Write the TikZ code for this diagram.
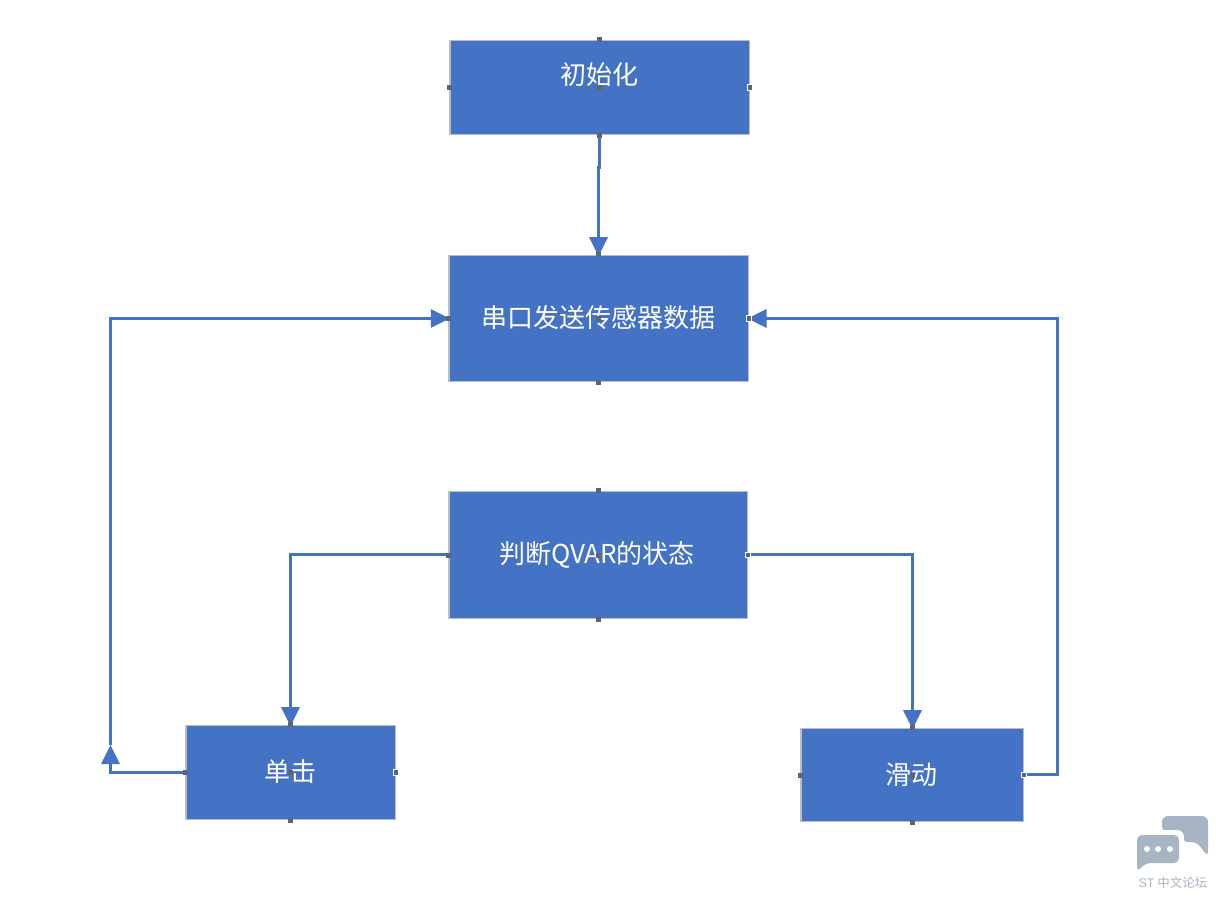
\documentclass[tikz,border=0pt]{standalone}
\usepackage{fontspec}
\setmainfont{Noto Sans CJK SC}
\newfontfamily\latinui{Liberation Sans}
\usetikzlibrary{arrows.meta,positioning}
\definecolor{boxblue}{HTML}{4472C4}
\definecolor{boxedge}{HTML}{B8BEC8}
\definecolor{handlegray}{HTML}{5F6470}
\definecolor{markgray}{HTML}{A7B4C4}
\tikzset{
  x=1pt,y=-1pt,
  box/.style={rectangle,draw=boxedge,line width=1.2pt,fill=boxblue,inner sep=0pt,anchor=north west},
  lbl/.style={text=white,font=\fontsize{26}{30}\selectfont,inner sep=0pt},
  handle/.style={rectangle,fill=handlegray,minimum size=5pt,inner sep=0pt},
  handlew/.style={handle,draw=white,line width=0.8pt,minimum size=5.5pt},
  link/.style={draw=boxblue,line width=3pt,line join=miter},
  tip/.style={-{Triangle[length=19pt,width=18pt,color=boxblue]},shorten >=-1.5pt},
}
\newcommand{\handles}[1]{%
  \node[handle] (#1-n) at (#1.north) {};
  \node[handle] (#1-s) at (#1.south) {};
  \node[handle] (#1-w) at (#1.west) {};
  \node[handle] (#1-c) at (#1.center) {};
}
\begin{document}
\begin{tikzpicture}
\useasboundingbox (0,0) rectangle (1216,899);
\fill[white] (0,0) rectangle (1216,899);

\node[box,minimum width=299.5pt,minimum height=94.5pt] (init) at (449.3,39.7) {};
\node[box,minimum width=299.5pt,minimum height=126.5pt] (send) at (448.3,254.7) {};
\node[box,minimum width=298.5pt,minimum height=127.5pt] (judge) at (448.3,490.7) {};
\node[box,minimum width=209.5pt,minimum height=94.5pt] (click) at (185.3,724.7) {};
\node[box,minimum width=222.5pt,minimum height=93.5pt] (slide) at (800.3,727.7) {};

\node[lbl] (t1) at (599,75) {初始化};
\node[lbl] (t2) at (598.5,318) {串口发送传感器数据};
\node[lbl] (t3) at (597,555) {判断QVAR的状态};
\node[lbl] (t4) at (290,772) {单击};
\node[lbl] (t5) at (911,775) {滑动};

\coordinate (jog1) at (599.5,167);
\coordinate (jog2) at (598.5,167);
\coordinate (midtip) at (110.5,745);
\coordinate (leftc) at (110.5,772.5);
\coordinate (topl) at (110.5,318.5);
\coordinate (rightb) at (1057.5,774.5);
\coordinate (rightt) at (1057.5,318.5);
\coordinate (jl) at (290.5,554.5);
\coordinate (jr) at (912.5,554.5);
\draw[link,tip] (jog1 |- init.south) -- (jog1) -- (jog2) -- (jog2 |- send.north);
\draw[link,tip,shorten >=0pt] (click.west |- leftc) -- (leftc) -- (midtip);
\draw[link,tip] (midtip) -- (topl) -- (send.west |- topl);
\draw[link,tip] (slide.east |- rightb) -- (rightb) -- (rightt) -- (send.east |- rightt);
\draw[link,tip] (judge.west |- jl) -- (jl) -- (click.north -| jl);
\draw[link,tip] (judge.east |- jr) -- (jr) -- (slide.north -| jr);

\handles{init}\handles{send}\handles{judge}\handles{click}\handles{slide}
\node[handlew] (init-e) at (init.east) {};
\node[handlew] (send-e) at (send.east) {};
\node[handlew] (judge-e) at (judge.east) {};
\node[handlew] (click-e) at (click.east) {};
\node[handlew] (slide-e) at (slide.east) {};

% watermark
\fill[markgray,rounded corners=6pt] (1162,816) -- (1208,816) -- (1208,857) -- (1197,842) -- (1182,842) -- (1182,832) -- (1178,832) -- (1162,832) -- cycle;
\fill[white,rounded corners=7pt] (1133,830) rectangle (1184,870);
\fill[markgray,rounded corners=5pt] (1137,835) -- (1179,835) -- (1179,863) -- (1146,863) -- (1137,872) -- cycle;
\fill[white] (1147,849) circle (3pt) (1158,849) circle (3pt) (1170,849) circle (3pt);
\node[text=markgray,font=\fontsize{12.5}{14}\selectfont,inner sep=0pt] (wm) at (1173,883) {{\latinui ST} 中文论坛};
\end{tikzpicture}
\end{document}
